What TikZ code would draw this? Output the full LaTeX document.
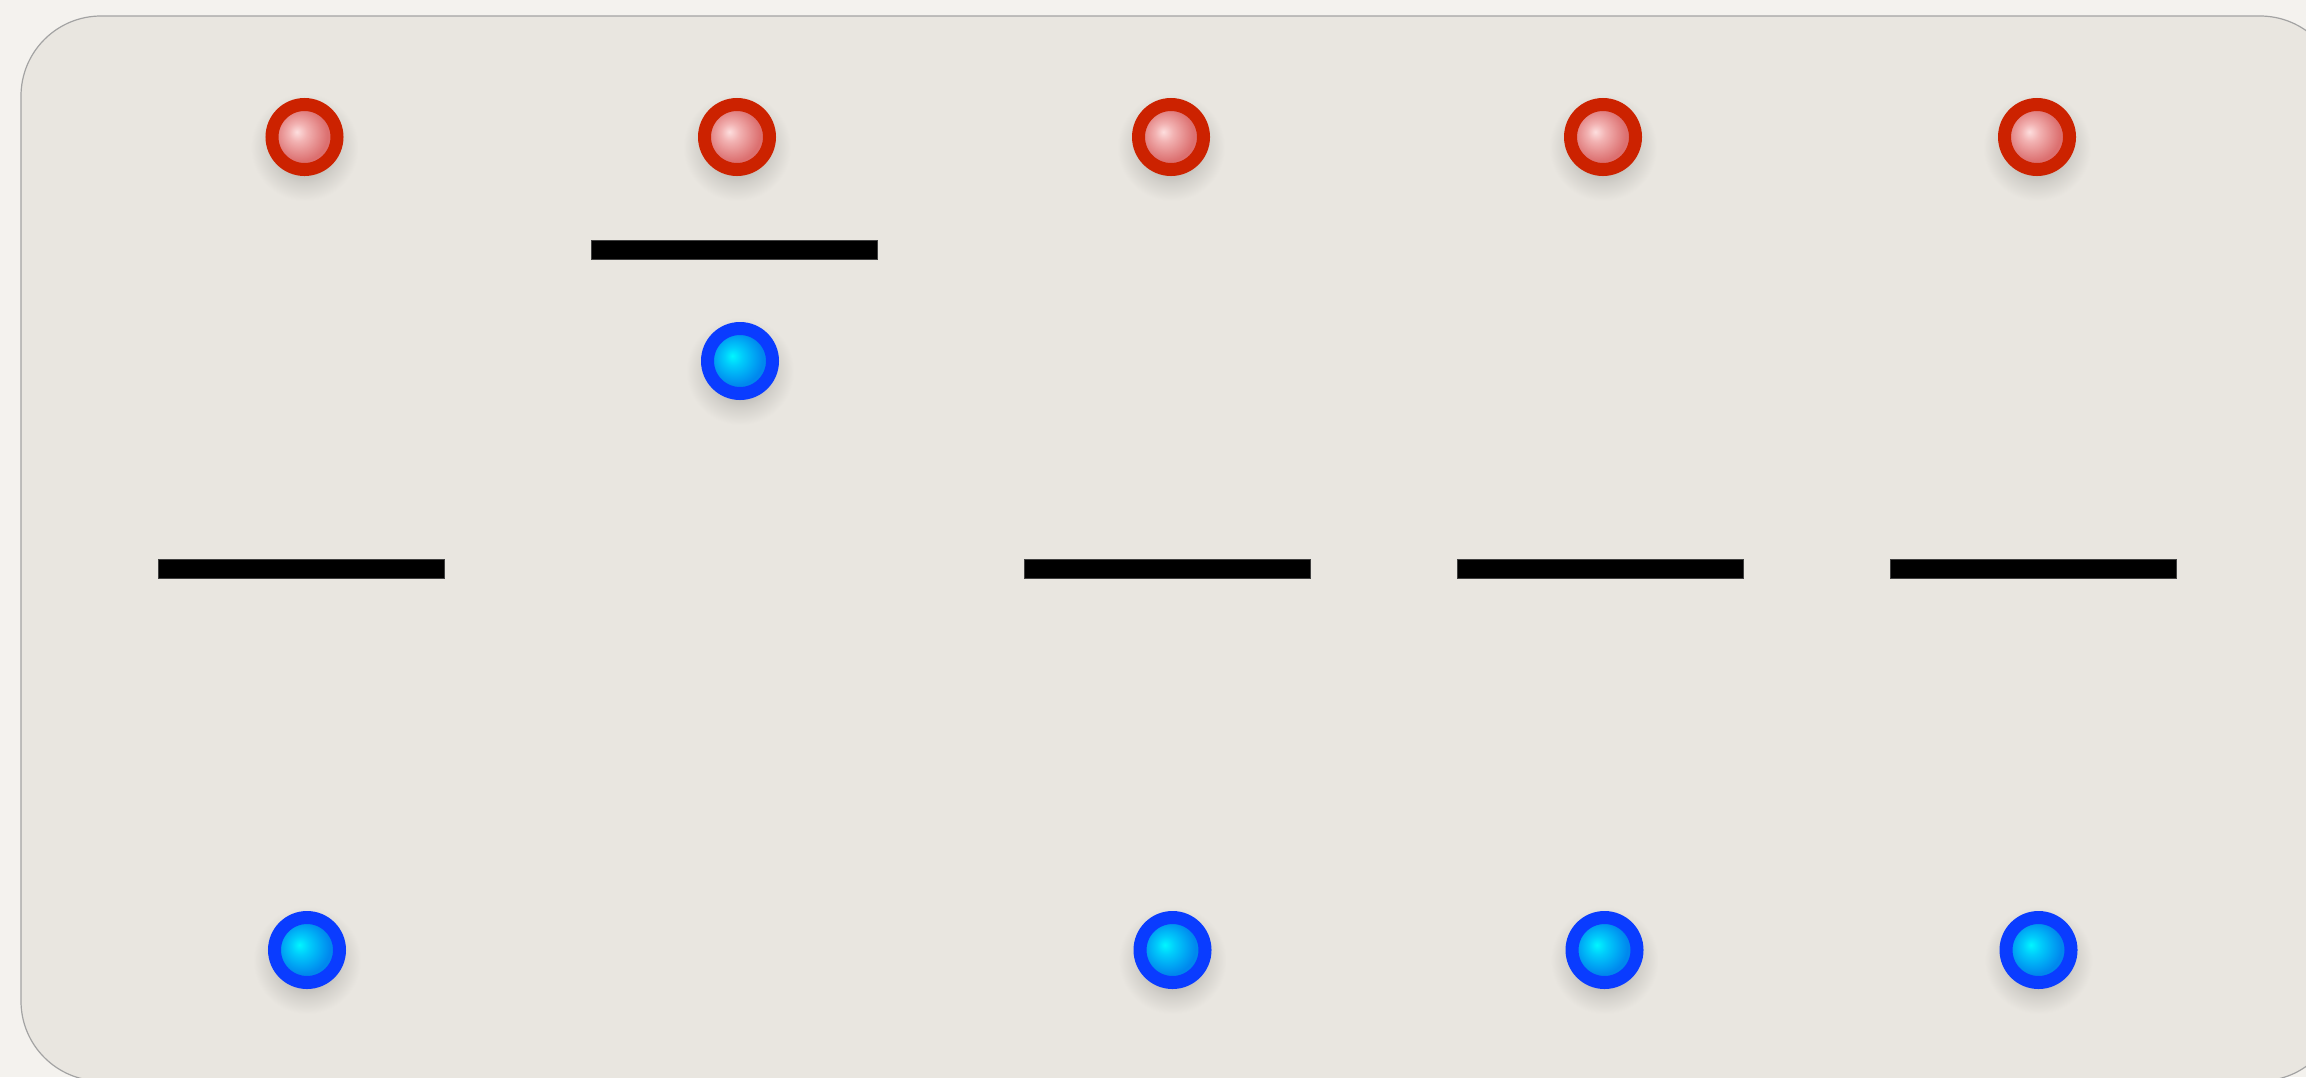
\documentclass[tikz,border=0pt]{standalone}
\definecolor{pagebg}{HTML}{F4F2EE}
\definecolor{panelbg}{HTML}{E9E6E0}
\definecolor{panelrule}{HTML}{A3A3A3}
\definecolor{shadowc}{HTML}{BDBBB6}
\definecolor{redring}{HTML}{CC2200}
\definecolor{pinkhi}{HTML}{FDDEDE}
\definecolor{pinkmid}{HTML}{F2B2B2}
\definecolor{pinkedge}{HTML}{DC7070}
\definecolor{bluering}{HTML}{0A3CFF}
\definecolor{cyanhi}{HTML}{00F6FF}
\definecolor{cyanmid}{HTML}{00CCFB}
\definecolor{cyanedge}{HTML}{0088EE}
\pgfdeclareradialshading{redball}{\pgfpoint{-6bp}{4bp}}{%
  color(0bp)=(pinkhi); color(7bp)=(pinkmid); color(21bp)=(pinkedge); color(50bp)=(pinkedge)}
\pgfdeclareradialshading{blueball}{\pgfpoint{-6bp}{4bp}}{%
  color(0bp)=(cyanhi); color(7bp)=(cyanmid); color(21bp)=(cyanedge); color(50bp)=(cyanedge)}
\pgfdeclareradialshading{softshadow}{\pgfpointorigin}{%
  color(0bp)=(shadowc); color(11bp)=(shadowc); color(17bp)=(shadowc!50!panelbg);
  color(25bp)=(panelbg); color(50bp)=(panelbg)}
\tikzset{
  dotbase/.style={circle, inner sep=0pt, minimum size=32.5pt, line width=6.5pt},
  reddot/.style={dotbase, draw=redring, shading=redball},
  bluedot/.style={dotbase, draw=bluering, shading=blueball},
  dotshadow/.style={shading=softshadow},
  barline/.style={rectangle, inner sep=0pt, fill=black, draw=black!75, line width=0.4pt,
    minimum width=143pt, minimum height=9.5pt},
}
\begin{document}
\begin{tikzpicture}[x=0.5pt,y=-0.5pt]
  \useasboundingbox (0,0) rectangle (2306,1077);
  \clip (0,0) rectangle (2306,1077);
  \fill[pagebg] (0,0) rectangle (2306,1077);
  \draw[panelrule, fill=panelbg, line width=0.6pt, rounded corners=40pt]
    (21,16) rectangle (2340,1081);

  % dot positions
  \coordinate (pr1) at (304.5,137);
  \coordinate (pr2) at (737,137);
  \coordinate (pr3) at (1171,137);
  \coordinate (pr4) at (1603,137);
  \coordinate (pr5) at (2037,137);
  \coordinate (pbm) at (740,361);
  \coordinate (pb1) at (307,950);
  \coordinate (pb3) at (1172.5,950);
  \coordinate (pb4) at (1604.5,950);
  \coordinate (pb5) at (2038.5,950);

  % soft shadows under the dots
  \foreach \p in {pr1,pr2,pr3,pr4,pr5,pbm,pb1,pb3,pb4,pb5}
    \shade[dotshadow] ([yshift=-5pt]\p) circle (27pt);

  % bars
  \node[barline] (bartop) at (734.3,249.5) {};
  \node[barline] (bar1) at (301.3,568.5) {};
  \node[barline] (bar3) at (1167.5,568.5) {};
  \node[barline] (bar4) at (1600.5,568.5) {};
  \node[barline] (bar5) at (2033.7,568.5) {};

  % red dots (top row)
  \node[reddot] (r1) at (pr1) {};
  \node[reddot] (r2) at (pr2) {};
  \node[reddot] (r3) at (pr3) {};
  \node[reddot] (r4) at (pr4) {};
  \node[reddot] (r5) at (pr5) {};

  % blue dots
  \node[bluedot] (bmid) at (pbm) {};
  \node[bluedot] (b1) at (pb1) {};
  \node[bluedot] (b3) at (pb3) {};
  \node[bluedot] (b4) at (pb4) {};
  \node[bluedot] (b5) at (pb5) {};
\end{tikzpicture}
\end{document}
